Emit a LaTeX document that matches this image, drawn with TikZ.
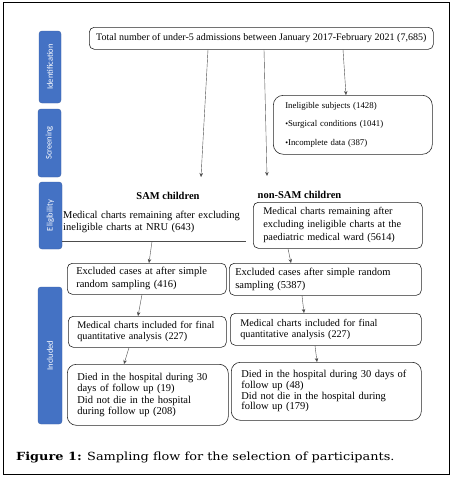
\documentclass[tikz,border=0pt]{standalone}
\usepackage{fontspec}
\setmainfont{Liberation Serif}
\newfontfamily\barfont{Carlito}
\newfontfamily\capfont[FakeStretch=1.15]{DejaVu Serif}
\usetikzlibrary{arrows.meta}
\definecolor{barblue}{HTML}{4472C4}
\begin{document}
\begin{tikzpicture}[x=1pt,y=-1pt,
  box/.style={draw=black!85, rounded corners=5pt, line width=0.6pt, anchor=north west, inner ysep=0pt, align=left},
  bar/.style={fill=barblue, draw=barblue!85!black, rounded corners=3pt, inner sep=0pt, text=white, rotate=90, font=\barfont\fontsize{8.5}{10}\selectfont},
  arr/.style={-{Stealth[length=4pt,width=3.5pt]}, line width=0.4pt, draw=black!70},
  head/.style={font=\bfseries\fontsize{10.5}{12}\selectfont, inner sep=0pt},
]
\useasboundingbox (0,0) rectangle (457,479);
\draw[line width=0.8pt] (3,2) rectangle (449,474);
% side bars
\node[bar, minimum width=72, minimum height=22] (bid) at (50,67) {Identification};
\node[bar, minimum width=68, minimum height=23] (bsc) at (49.5,143) {Screening};
\node[bar, minimum width=67, minimum height=23] (bel) at (50.5,215.5) {Eligibility};
\node[bar, minimum width=137, minimum height=24] (bin) at (50,355.5) {Included};
% top
\node[box, minimum width=344, minimum height=22, align=center, inner xsep=0pt, font=\fontsize{10}{12}\selectfont] (top) at (89,27)
  {Total number of under-5 admissions between January 2017-February 2021 (7,685)};
% ineligible
\node[box, rounded corners=10pt, minimum width=159, minimum height=59, inner xsep=12pt, text width=135pt, font=\fontsize{8.8}{18.5}\selectfont] (inel) at (273,95)
  {Ineligible subjects (1428)\\
   {\fontsize{8}{8}\selectfont •}Surgical conditions (1041)\\
   {\fontsize{8}{8}\selectfont •}Incomplete data (387)};
% headings
\node[head] (hS) at (168,196) {SAM children};
\node[head] (hN) at (299.5,195) {non-SAM children};
% eligibility
\node[anchor=north west, minimum width=184, minimum height=39, inner xsep=1pt, inner ysep=0pt, text width=182pt, align=left, font=\fontsize{10.5}{12}\selectfont] (eS) at (62,202)
  {Medical charts remaining after excluding\\ineligible charts at NRU (643)};
\draw[line width=0.5pt, black!70] (eS.south west) -- (eS.south east);
\node[box, minimum width=169, minimum height=46, inner xsep=10pt, text width=149pt, font=\fontsize{10.3}{13}\selectfont] (eN) at (253,202)
  {Medical charts remaining after\\excluding ineligible charts at the\\paediatric medical ward (5614)};
% excluded
\node[box, minimum width=159, minimum height=31, inner xsep=9pt, text width=141pt, font=\fontsize{10.5}{13}\selectfont] (xS) at (67,263)
  {Excluded cases at after simple\\random sampling (416)};
\node[box, minimum width=192, minimum height=32, inner xsep=6pt, text width=180pt, font=\fontsize{10.5}{13}\selectfont] (xN) at (229,263)
  {Excluded cases after simple random\\sampling (5387)};
% included
\node[box, minimum width=158, minimum height=31, inner xsep=9pt, text width=140pt, font=\fontsize{10.2}{11}\selectfont] (iS) at (68,316)
  {Medical charts included for final\\quantitative analysis (227)};
\node[box, minimum width=191, minimum height=32, inner xsep=10pt, text width=171pt, font=\fontsize{10.2}{11}\selectfont] (iN) at (230,313)
  {Medical charts included for final\\quantitative analysis (227)};
% died
\node[box, rounded corners=9pt, minimum width=161, minimum height=61, inner xsep=10pt, text width=141pt, font=\fontsize{10.5}{11.4}\selectfont] (dS) at (67,364)
  {Died in the hospital during 30\\days of follow up (19)\\Did not die in the hospital\\during follow up (208)};
\node[box, rounded corners=9pt, minimum width=190, minimum height=58, inner xsep=10pt, text width=170pt, font=\fontsize{10.5}{9.5}\selectfont] (dN) at (231,362)
  {Died in the hospital during 30 days of\\follow up (48)\\Did not die in the hospital during\\follow up (179)};
% free arrow ends
\coordinate (endS) at (201,177);
\coordinate (endN) at (267,176);
% arrows
\draw[arr] (top.south -| 208,0) -- (endS);
\draw[arr] (top.south -| 264,0) -- (endN);
\draw[arr] (top.south -| 343,0) -- (inel.north -| 346,0);
\draw[arr] (eS.south -| 152,0) -- (xS.north -| 149,0);
\draw[arr] (eN.south -| 288,0) -- (xN.north -| 291,0);
\draw[arr] (xS.south -| 142,0) -- (iS.north -| 138,0);
\draw[arr] (xN.south -| 302,0) -- (iN.north -| 304,0);
\draw[arr] (iS.south -| 129,0) -- (dS.north -| 124,0);
\draw[arr] (iN.south -| 315,0) -- (dN.north -| 317,0);
% caption
\node[anchor=west, inner sep=0pt, font=\capfont\fontsize{11.2}{13}\selectfont] (cap) at (16,457)
  {\textbf{Figure 1:} Sampling flow for the selection of participants.};
\end{tikzpicture}
\end{document}
